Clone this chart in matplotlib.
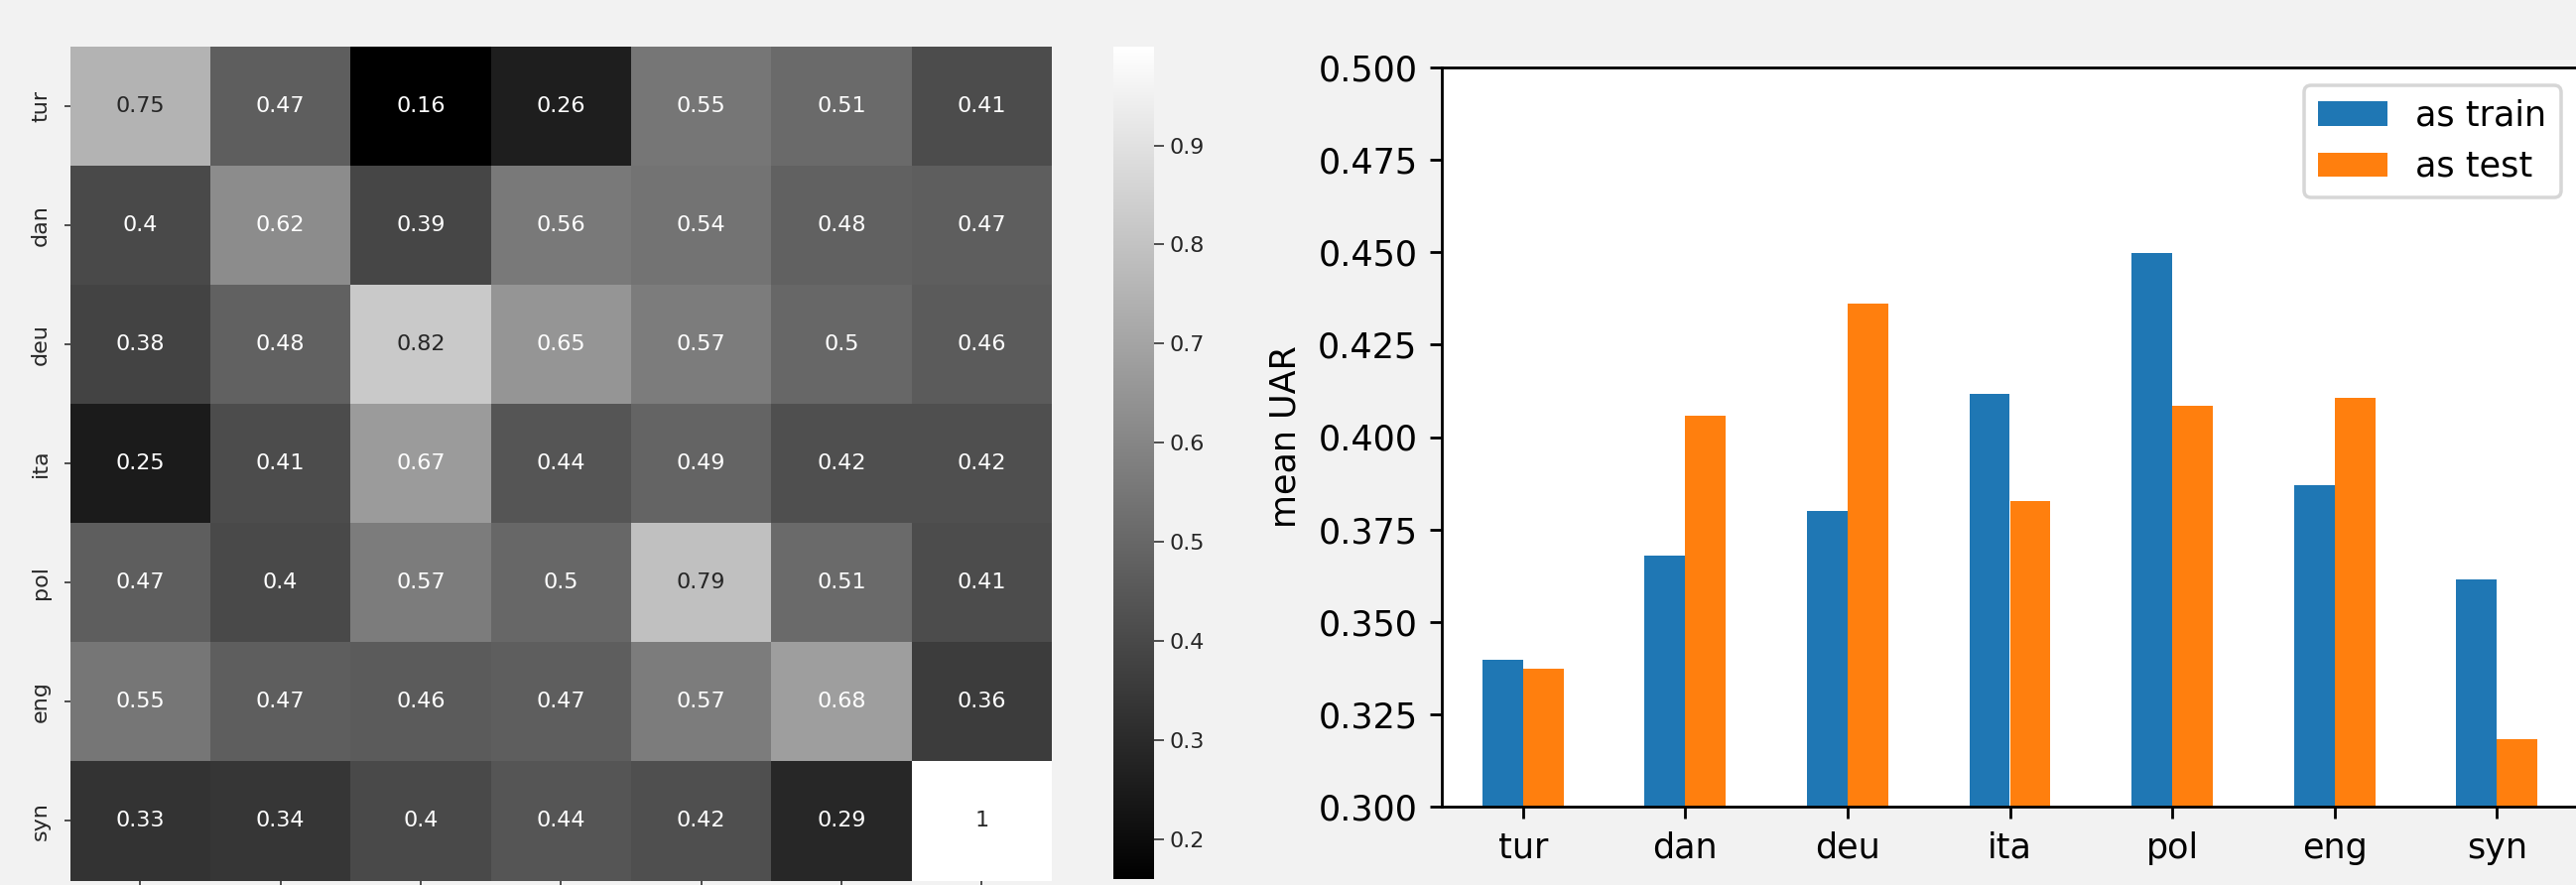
import matplotlib
matplotlib.use('Agg')
import matplotlib.pyplot as plt
import numpy as np
import seaborn as sns

langs = ['tur', 'dan', 'deu', 'ita', 'pol', 'eng', 'syn']
row_tur = [0.75, 0.47, 0.16, 0.26, 0.55, 0.51, 0.41]
row_dan = [0.40, 0.62, 0.39, 0.56, 0.54, 0.48, 0.47]
row_deu = [0.38, 0.48, 0.82, 0.65, 0.57, 0.50, 0.46]
row_ita = [0.25, 0.41, 0.67, 0.44, 0.49, 0.42, 0.42]
row_pol = [0.47, 0.40, 0.57, 0.50, 0.79, 0.51, 0.41]
row_eng = [0.55, 0.47, 0.46, 0.47, 0.57, 0.68, 0.36]
row_syn = [0.33, 0.34, 0.40, 0.44, 0.42, 0.29, 1.00]
as_train = [0.3396, 0.3680, 0.3800, 0.4116, 0.4498, 0.3871, 0.3614]
as_test = [0.3374, 0.4058, 0.4360, 0.3827, 0.4085, 0.4107, 0.3183]
cbar_ticks = [0.2, 0.3, 0.4, 0.5, 0.6, 0.7, 0.8, 0.9]
bar_yticks = [0.300, 0.325, 0.350, 0.375, 0.400, 0.425, 0.450, 0.475, 0.500]

W, H = 2596, 892
S = 2.52   # scale for bar chart (pt)
T = 1.60   # scale for heatmap (pt)
BG = '#f2f2f2'

fig = plt.figure(figsize=(W / 100, H / 100), dpi=100, facecolor=BG)


def px(l, t, r, b):
    return [l / W, 1 - b / H, (r - l) / W, (b - t) / H]


ax_h = fig.add_axes(px(70.5, 46.7, 1060, 887.5))
ax_c = fig.add_axes(px(1122, 46.6, 1163, 886))
ax_b = fig.add_axes(px(1453, 68, 2598, 813))

matrix = np.array([row_tur, row_dan, row_deu, row_ita, row_pol, row_eng, row_syn])
sns.heatmap(matrix, ax=ax_h, cbar_ax=ax_c, cmap='gray', annot=True,
            annot_kws={'size': 10 * T}, xticklabels=langs, yticklabels=langs)
ax_h.tick_params(axis='y', labelsize=10 * T, length=4, width=1.2, pad=10,
                 colors='#333333', labelcolor='#262626')
# x tick labels fall below the visible area in the reference: keep only the marks
ax_h.tick_params(axis='x', length=4, width=1.2, colors='#333333', labelbottom=False)
for t in ax_h.get_yticklabels():
    t.set_rotation(90)
    t.set_va('center')

ax_c.set_yticks(cbar_ticks)
ax_c.set_yticklabels([f'{v:.1f}' for v in cbar_ticks])
ax_c.tick_params(labelsize=10 * T, length=7, width=1.2, pad=4,
                 colors='#333333', labelcolor='#262626')

x = np.arange(len(langs))
ax_b.set_facecolor('white')
ax_b.bar(x - 0.125, as_train, 0.25, color='#1f77b4', label='as train')
ax_b.bar(x + 0.125, as_test, 0.25, color='#ff7f0e', label='as test')
ax_b.set_xlim(-0.5, 6.5)
ax_b.set_ylim(0.3, 0.5)
ax_b.set_xticks(x)
ax_b.set_xticklabels(langs)
ax_b.set_yticks(bar_yticks)
ax_b.set_yticklabels([f'{v:.3f}' for v in bar_yticks])
ax_b.tick_params(labelsize=10 * S, length=3.5 * S, width=0.8 * S, pad=3.5 * S)
for sp in ax_b.spines.values():
    sp.set_linewidth(0.8 * S)
ax_b.set_ylabel('mean UAR', fontsize=10 * S, labelpad=11)
leg = ax_b.legend(loc='upper right', fontsize=10 * S)
leg.get_frame().set_linewidth(1.0 * S)

fig.savefig('out.png', dpi=100, facecolor=BG)
